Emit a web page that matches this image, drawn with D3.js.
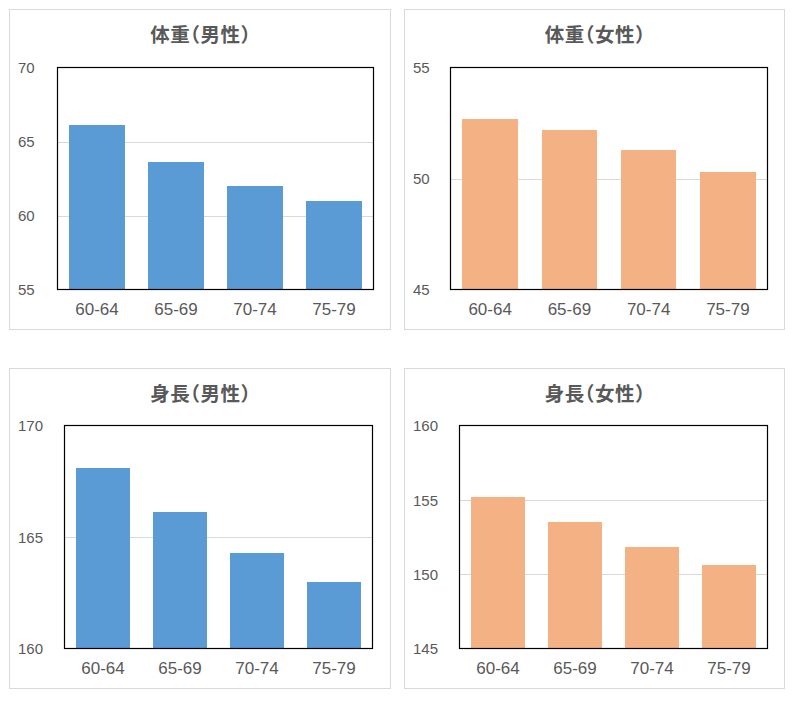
<!DOCTYPE html>
<html>
<head>
<meta charset="utf-8">
<script src="https://cdn.jsdelivr.net/npm/d3@7/dist/d3.min.js"></script>
<style>
  html, body { margin: 0; padding: 0; background: #ffffff; }
  svg { display: block; }
  .ttl { font-feature-settings: "halt" 1; }
</style>
</head>
<body>
<svg id="chart" width="797" height="701"></svg>
<script>
// ---- data ----
const categories = ["60-64", "65-69", "70-74", "75-79"];
const weightMale = [66.1, 63.6, 62.0, 61.0];
const weightFemale = [52.7, 52.2, 51.3, 50.3];
const heightMale = [168.1, 166.1, 164.3, 163.0];
const heightFemale = [155.2, 153.5, 151.8, 150.6];
const titles = ["体重（男性）", "体重（女性）", "身長（男性）", "身長（女性）"];
const ticksWeightMale = [55, 60, 65, 70];
const ticksWeightFemale = [45, 50, 55];
const ticksHeightMale = [160, 165, 170];
const ticksHeightFemale = [145, 150, 155, 160];

const BLUE = "#5B9BD5", ORANGE = "#F4B183";

const panels = [
  { title: titles[0], values: weightMale, ticks: ticksWeightMale, color: BLUE,
    box: [9.5, 9.5, 390.5, 329.5], plot: [57.5, 67.5, 373.5, 289.5] },
  { title: titles[1], values: weightFemale, ticks: ticksWeightFemale, color: ORANGE,
    box: [404.5, 9.5, 784.5, 329.5], plot: [450.5, 67.5, 767.5, 289.5] },
  { title: titles[2], values: heightMale, ticks: ticksHeightMale, color: BLUE,
    box: [9.5, 368.5, 390.5, 688.5], plot: [64.5, 425.5, 372.5, 648.5] },
  { title: titles[3], values: heightFemale, ticks: ticksHeightFemale, color: ORANGE,
    box: [404.5, 368.5, 784.5, 688.5], plot: [459.5, 425.5, 767.5, 648.5] }
];

const svg = d3.select("#chart");
const textColor = "#595959";
const numFont = "'Liberation Sans', Arial, sans-serif";
const cjkFont = "'Noto Sans CJK JP', 'Noto Sans', sans-serif";

panels.forEach(p => {
  const [bx0, by0, bx1, by1] = p.box;
  const [px0, py0, px1, py1] = p.plot;
  const g = svg.append("g");

  // outer frame
  g.append("rect")
    .attr("x", bx0).attr("y", by0)
    .attr("width", bx1 - bx0).attr("height", by1 - by0)
    .attr("fill", "#ffffff").attr("stroke", "#d9d9d9").attr("stroke-width", 1);

  // title
  g.append("text")
    .attr("class", "ttl")
    .attr("x", (bx0 + bx1) / 2 + 0.5)
    .attr("y", by0 + 23.5)
    .attr("text-anchor", "middle")
    .attr("dominant-baseline", "central")
    .attr("font-family", cjkFont)
    .attr("font-weight", "bold")
    .attr("font-size", "19.5px")
    .attr("letter-spacing", "0.5px")
    .attr("fill", textColor)
    .text(p.title);

  const yMin = d3.min(p.ticks), yMax = d3.max(p.ticks);
  const y = d3.scaleLinear().domain([yMin, yMax]).range([py1, py0]);
  const x = d3.scaleBand().domain(categories).range([px0, px1])
    .paddingInner(0.3).paddingOuter(0.15);

  // gridlines
  const yGrid = d3.axisLeft(y).tickValues(p.ticks.filter(t => t !== yMin && t !== yMax))
    .tickSize(-(px1 - px0)).tickFormat("");
  const gg = g.append("g").attr("transform", `translate(${px0},0)`).call(yGrid);
  gg.select(".domain").remove();
  gg.selectAll("line").attr("stroke", "#d9d9d9").attr("stroke-width", 1)
    .attr("shape-rendering", "crispEdges");

  // bars
  g.selectAll("rect.bar")
    .data(p.values.map((v, i) => ({ cat: categories[i], v })))
    .enter().append("rect")
    .attr("class", "bar")
    .attr("x", d => x(d.cat))
    .attr("width", x.bandwidth())
    .attr("y", d => y(d.v))
    .attr("height", d => y(yMin) - y(d.v))
    .attr("fill", p.color)
    .attr("shape-rendering", "crispEdges");

  // plot border
  g.append("rect")
    .attr("x", px0).attr("y", py0)
    .attr("width", px1 - px0).attr("height", py1 - py0)
    .attr("fill", "none").attr("stroke", "#000000").attr("stroke-width", 1.2);

  // y axis labels (left aligned)
  const yAxis = d3.axisLeft(y).tickValues(p.ticks).tickSize(0).tickFormat(d3.format("d"));
  const ya = g.append("g").attr("transform", `translate(${px0},0)`).call(yAxis);
  ya.select(".domain").remove();
  ya.selectAll("text")
    .attr("x", bx0 + 8.5 - px0)
    .attr("dy", "0.35em")
    .attr("text-anchor", "start")
    .attr("font-family", numFont)
    .attr("font-size", "15px")
    .attr("fill", textColor);

  // x axis labels
  const xAxis = d3.axisBottom(x).tickSize(0);
  const xa = g.append("g").attr("transform", `translate(0,${py1})`).call(xAxis);
  xa.select(".domain").remove();
  xa.selectAll("text")
    .attr("y", 20)
    .attr("dy", "0.35em")
    .attr("font-family", numFont)
    .attr("font-size", "17px")
    .attr("fill", textColor);
});
</script>
</body>
</html>
